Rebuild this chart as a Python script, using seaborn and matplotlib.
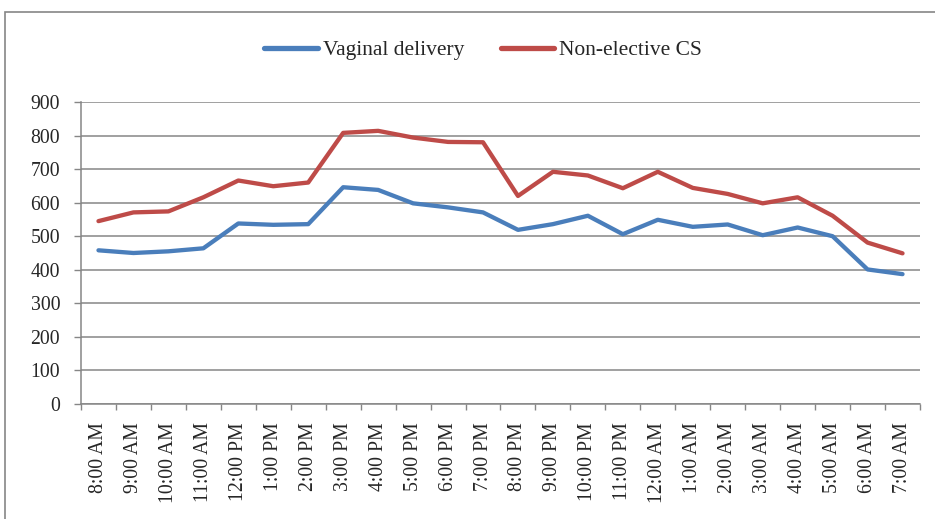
import numpy as np
import pandas as pd
import matplotlib
matplotlib.use("Agg")
import matplotlib.pyplot as plt
from matplotlib.patches import Rectangle
from matplotlib.ticker import MultipleLocator
import seaborn as sns

hours = ["8:00 AM", "9:00 AM", "10:00 AM", "11:00 AM", "12:00 PM", "1:00 PM",
         "2:00 PM", "3:00 PM", "4:00 PM", "5:00 PM", "6:00 PM", "7:00 PM",
         "8:00 PM", "9:00 PM", "10:00 PM", "11:00 PM", "12:00 AM", "1:00 AM",
         "2:00 AM", "3:00 AM", "4:00 AM", "5:00 AM", "6:00 AM", "7:00 AM"]
vaginal = [458, 450, 455, 464, 538, 534, 536, 646, 638, 598, 586, 571,
           519, 536, 561, 506, 549, 528, 535, 503, 526, 500, 401, 387]
non_elective_cs = [545, 571, 574, 616, 666, 649, 660, 808, 814, 794, 781, 780,
                   620, 692, 681, 643, 692, 644, 626, 598, 616, 561, 481, 449]

df = pd.DataFrame({
    "pos": list(range(len(hours))) * 2,
    "value": vaginal + non_elective_cs,
    "series": ["Vaginal delivery"] * len(hours) + ["Non-elective CS"] * len(hours),
})

sns.set_style("white")
plt.rcParams["font.family"] = ["Liberation Serif", "DejaVu Serif"]

fig = plt.figure(figsize=(9.35, 5.19), dpi=100)
ax = fig.add_axes([81 / 935, 1 - 404 / 519, (920 - 81) / 935, (404 - 102) / 519])

palette = {"Vaginal delivery": "#4A7EBB", "Non-elective CS": "#BE4B48"}
sns.lineplot(data=df, x="pos", y="value", hue="series", palette=palette,
             linewidth=3.1, ax=ax, sort=False, legend=True)

ax.set_ylim(0, 900)
ax.set_xlim(-0.5, len(hours) - 0.5)
ax.yaxis.set_major_locator(MultipleLocator(100))
ax.grid(axis="y", color="#868686", linewidth=1.1)
ax.set_axisbelow(True)

ax.set_xticks(range(len(hours)))
ax.set_xticklabels(hours, rotation=90, fontsize=14.2)
ax.set_xticks(np.arange(-0.5, len(hours), 1), minor=True)
ax.tick_params(axis="x", which="major", length=0, pad=13)
ax.tick_params(axis="x", which="minor", length=4.5, width=1, color="#868686",
               direction="out", bottom=True)
ax.tick_params(axis="y", length=5, width=1, color="#868686", direction="out",
               left=True, labelsize=14.2, pad=10)
ax.set_xlabel("")
ax.set_ylabel("")

for side in ["top", "right"]:
    ax.spines[side].set_visible(False)
for side in ["left", "bottom"]:
    ax.spines[side].set_color("#868686")
    ax.spines[side].set_linewidth(1.1)

handles, labels = ax.get_legend_handles_labels()
ax.get_legend().remove()
leg = fig.legend(handles, labels, loc="center", bbox_to_anchor=(483 / 935, 1 - 50 / 519),
                 ncol=2, frameon=False, fontsize=15.5, handlelength=2.5,
                 handletextpad=0.2, columnspacing=1.7)
for line in leg.get_lines():
    line.set_linewidth(3.8)
    line.set_solid_capstyle("round")

fig.patches.append(Rectangle((5 / 935, -0.05), 1.0, 1 - 12 / 519 + 0.05,
                             transform=fig.transFigure, fill=False,
                             edgecolor="#868686", linewidth=1.2))

fig.savefig("out.png", dpi=100)
